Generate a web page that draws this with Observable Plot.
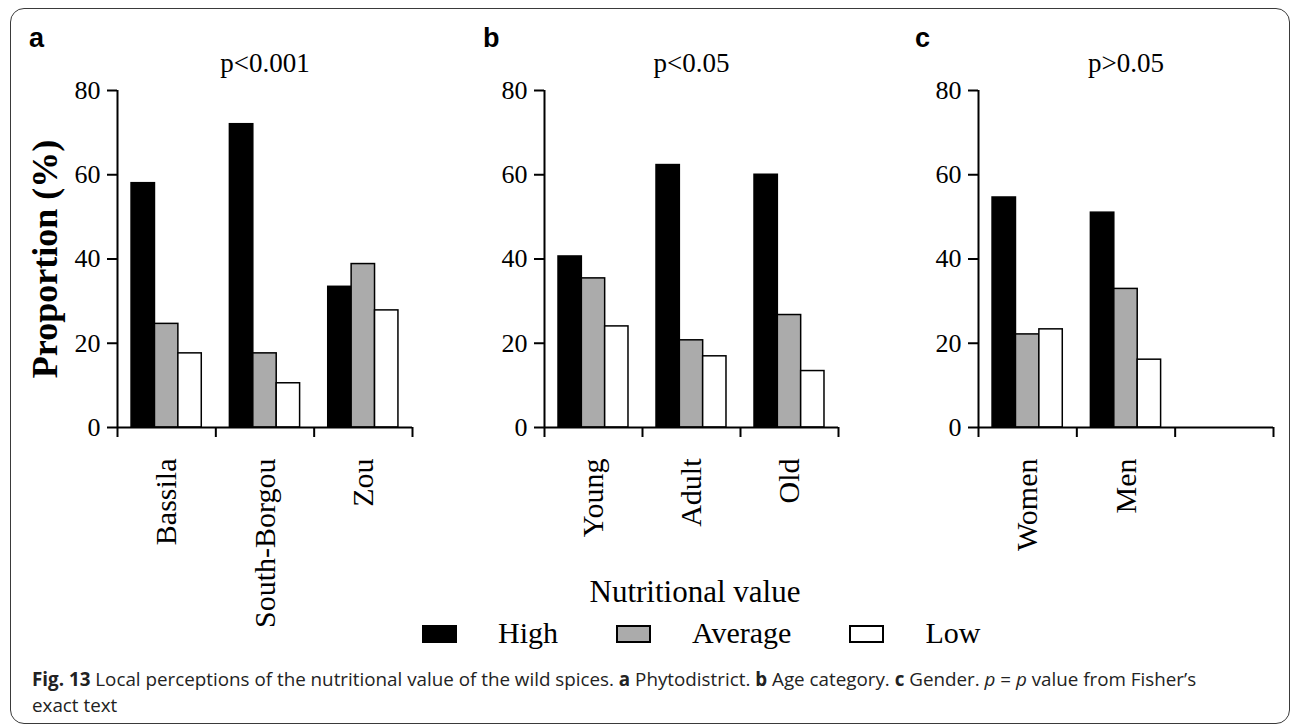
<!DOCTYPE html>
<html>
<head>
<meta charset="utf-8">
<script src="https://cdn.jsdelivr.net/npm/d3@7"></script>
<script src="https://cdn.jsdelivr.net/npm/@observablehq/plot@0.6"></script>
<style>
  html, body { margin: 0; padding: 0; background: #fff; }
  #fig { position: relative; width: 1292px; height: 724px; overflow: hidden; background: #fff; }
  #border { position: absolute; left: 10px; top: 8px; width: 1280px; height: 716px; box-sizing: border-box;
            border: 1.5px solid #3a3a3a; border-radius: 14px; }
  .panel { position: absolute; top: 0; }
  .letter { position: absolute; top: 25px; font-family: "Liberation Sans", Arial, sans-serif; font-weight: bold;
            font-size: 27px; line-height: 1; color: #000; }
  .serif { font-family: "Liberation Serif", "Times New Roman", serif; color: #000; }
  #legtitle { position: absolute; left: 0; width: 1390px; text-align: center; top: 576px; font-size: 31px; line-height: 1; }
  #legend { position: absolute; left: 422px; top: 618px; display: flex; align-items: flex-start; }
  .lbox { width: 35px; height: 18px; box-sizing: border-box; border: 2px solid #000; margin-top: 7px; margin-right: 41px; }
  .ltext { font-size: 30px; line-height: 1; margin-right: 58px; }
  #caption { position: absolute; left: 32px; top: 666px; font-family: "Open Sans", "DejaVu Sans", sans-serif;
             font-size: 18px; line-height: 26px; color: #222; white-space: nowrap; }
</style>
</head>
<body>
<div id="fig">
  <div id="border"></div>
</div>
<script>
// ---------- data ----------
const seriesNames = ["High", "Average", "Low"];
const seriesFills = ["#000000", "#ababab", "#ffffff"];
const yTicks = [0, 20, 40, 60, 80];

const phytoCats = ["Bassila", "South-Borgou", "Zou"];
const phytoHigh = [58.0, 72.0, 33.4];
const phytoAverage = [24.6, 17.6, 38.8];
const phytoLow = [17.6, 10.5, 27.8];

const ageCats = ["Young", "Adult", "Old"];
const ageHigh = [40.6, 62.3, 60.0];
const ageAverage = [35.4, 20.7, 26.7];
const ageLow = [24.0, 16.9, 13.4];

const genderCats = ["Women", "Men"];
const genderHigh = [54.6, 51.0];
const genderAverage = [22.1, 32.9];
const genderLow = [23.3, 16.1];

const panelTitles = ["p<0.001", "p<0.05", "p>0.05"];
const panelLetters = ["a", "b", "c"];
const yLabel = "Proportion (%)";
const legendTitle = "Nutritional value";

// ---------- drawing ----------
const fig = document.getElementById("fig");
const H = 640;

function panel(cats, series, nBands, title, yTitle, box) {
  const rows = [];
  cats.forEach((c, i) => series.forEach((vals, j) => rows.push({cat: c, i, j, v: vals[i]})));
  const groupW = 0.714, barW = groupW / 3, off = (1 - groupW) / 2;
  const marks = [
    Plot.rectY(rows, {
      x1: d => d.i + off + d.j * barW,
      x2: d => d.i + off + (d.j + 1) * barW,
      y1: () => 0, y2: "v",
      fill: d => seriesFills[d.j], stroke: "#000", strokeWidth: 1.5
    }),
    Plot.axisY({ticks: yTicks, tickSize: 10, tickPadding: 7, strokeWidth: 2, tickFormat: d => String(d), fontSize: 26, label: null}),
    Plot.axisX({ticks: d3.range(nBands + 1), tickSize: 10, strokeWidth: 2, tickFormat: () => "", label: null}),
    Plot.ruleX([0], {x: d => d, y1: () => 0, y2: () => 80, strokeWidth: 2}),
    Plot.ruleY([0], {y: d => d, x1: () => 0, x2: () => nBands, strokeWidth: 2}),
    Plot.text(cats, {x: (d, i) => i + 0.5, y: () => 0, text: d => d, rotate: -90, textAnchor: "end", dy: 31, fontSize: 30}),
    Plot.text([title], {frameAnchor: "top", lineAnchor: "middle", dy: -27, fontSize: 27, text: d => d})
  ];
  if (yTitle) {
    marks.push(Plot.text([yTitle], {frameAnchor: "left", textAnchor: "middle", lineAnchor: "middle", rotate: -90, dx: -72, fontSize: 36, fontWeight: "bold", text: d => d}));
  }
  const svg = Plot.plot({
    width: box.width, height: H,
    marginLeft: box.axisLeft - box.left, marginRight: box.left + box.width - box.axisRight,
    marginTop: 90, marginBottom: H - 427,
    x: {type: "linear", domain: [0, nBands], axis: null},
    y: {type: "linear", domain: [0, 80], axis: null},
    style: {background: "transparent", fontFamily: "'Liberation Serif', 'Times New Roman', serif", fontSize: "26px", color: "#000", overflow: "visible"},
    marks
  });
  svg.classList.add("panel");
  svg.style.left = box.left + "px";
  fig.appendChild(svg);
}

panel(phytoCats, [phytoHigh, phytoAverage, phytoLow], 3, panelTitles[0], yLabel,
      {left: 0, width: 430, axisLeft: 117, axisRight: 412});
panel(ageCats, [ageHigh, ageAverage, ageLow], 3, panelTitles[1], null,
      {left: 430, width: 430, axisLeft: 544, axisRight: 838});
panel(genderCats, [genderHigh, genderAverage, genderLow], 3, panelTitles[2], null,
      {left: 860, width: 432, axisLeft: 978, axisRight: 1273});

// panel letters
[29, 483, 915].forEach((x, k) => {
  const d = document.createElement("div");
  d.className = "letter";
  d.style.left = x + "px";
  d.textContent = panelLetters[k];
  fig.appendChild(d);
});

// legend
const lt = document.createElement("div");
lt.id = "legtitle"; lt.className = "serif"; lt.textContent = legendTitle;
fig.appendChild(lt);
const leg = document.createElement("div");
leg.id = "legend"; leg.className = "serif";
seriesNames.forEach((s, j) => {
  const b = document.createElement("div");
  b.className = "lbox"; b.style.background = seriesFills[j];
  const t = document.createElement("div");
  t.className = "ltext"; t.textContent = s;
  leg.appendChild(b); leg.appendChild(t);
});
fig.appendChild(leg);

// caption
const cap = document.createElement("div");
cap.id = "caption";
cap.innerHTML = '<div id="cap1"><b>Fig. 13</b> Local perceptions of the nutritional value of the wild spices. <b>a</b> Phytodistrict. <b>b</b> Age category. <b>c</b> Gender. <i>p</i> = <i>p</i> value from Fisher\u2019s</div><div>exact text</div>';
fig.appendChild(cap);
const w1 = document.getElementById("cap1").getBoundingClientRect().width;
const fs = 18 * 1165 / w1;
cap.style.fontSize = fs.toFixed(2) + "px";
</script>
</body>
</html>
